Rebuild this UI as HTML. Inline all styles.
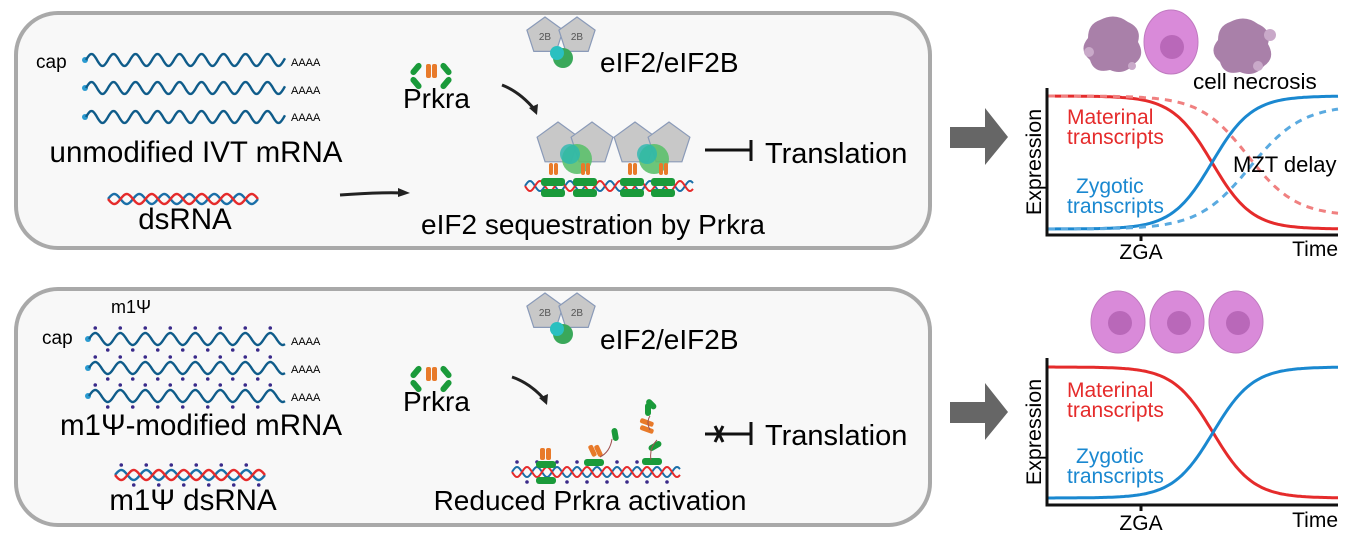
<!DOCTYPE html>
<html><head><meta charset="utf-8"><style>
html,body{margin:0;padding:0;background:#fff;width:1350px;height:538px;overflow:hidden}
svg text{font-family:"Liberation Sans",sans-serif}
</style></head><body>
<svg id="s" width="1350" height="538" viewBox="0 0 1350 538" xmlns="http://www.w3.org/2000/svg">
<rect x="16" y="13" width="914" height="235" rx="42" fill="#f8f8f8" stroke="#a9a9a9" stroke-width="4"/>
<rect x="16" y="289" width="914" height="236" rx="42" fill="#f8f8f8" stroke="#a9a9a9" stroke-width="4"/>
<g id="dyn"></g>
<text x="36" y="68" font-size="19">cap</text>
<text x="291" y="66" font-size="11">AAAA</text>
<text x="291" y="94" font-size="11">AAAA</text>
<text x="291" y="121" font-size="11">AAAA</text>
<text x="196" y="162" font-size="29.5" text-anchor="middle">unmodified IVT mRNA</text>
<text x="185" y="229" font-size="29.5" text-anchor="middle">dsRNA</text>
<text x="403" y="108" font-size="28">Prkra</text>
<text x="600" y="72" font-size="28">eIF2/eIF2B</text>
<text x="765" y="163" font-size="29">Translation</text>
<text x="593" y="234" font-size="28" text-anchor="middle">eIF2 sequestration by Prkra</text>
<text x="111" y="313" font-size="18">m1Ψ</text>
<text x="42" y="344" font-size="19">cap</text>
<text x="291" y="345" font-size="11">AAAA</text>
<text x="291" y="373" font-size="11">AAAA</text>
<text x="291" y="401" font-size="11">AAAA</text>
<text x="201" y="435" font-size="29.5" text-anchor="middle">m1Ψ-modified mRNA</text>
<text x="193" y="510" font-size="29.5" text-anchor="middle">m1Ψ dsRNA</text>
<text x="403" y="411" font-size="28">Prkra</text>
<text x="600" y="349" font-size="28">eIF2/eIF2B</text>
<text x="765" y="445" font-size="29">Translation</text>
<text x="590" y="510" font-size="28" text-anchor="middle">Reduced Prkra activation</text>
<path d="M705 150H750M751 140V161" stroke="#111" stroke-width="3" fill="none"/>
<path d="M705 434H750M751 422V445M715 426l8 16M723 426l-8 16" stroke="#111" stroke-width="3" fill="none"/>
<path d="M340 195 Q 380 192 405 193" stroke="#222" stroke-width="3" fill="none"/>
<path d="M398 188 L410 193 L398 197Z" fill="#222"/>
<path d="M502 85 Q 520 92 535 110" stroke="#222" stroke-width="3" fill="none"/>
<path d="M529 108 L537 115 L538 104Z" fill="#222"/>
<path d="M512 377 Q 530 383 545 400" stroke="#222" stroke-width="3" fill="none"/>
<path d="M539 398 L547 405 L548 394Z" fill="#222"/>
<path d="M950 127H985V108L1008 137L985 165V148H950Z" fill="#666"/>
<path d="M950 402H985V383L1008 412L985 440V423H950Z" fill="#666"/>
<g>
<path d="M1047 88V235H1338M1141 235v6" stroke="#111" stroke-width="3" fill="none"/>
<path d="M1047 358V505H1338M1141 505v6" stroke="#111" stroke-width="3" fill="none"/>
<text x="1141" y="259" text-anchor="middle" font-size="21">ZGA</text>
<text x="1338" y="256" text-anchor="end" font-size="21">Time</text>
<text x="1141" y="530" text-anchor="middle" font-size="21">ZGA</text>
<text x="1338" y="527" text-anchor="end" font-size="21">Time</text>
<text transform="translate(1041 162) rotate(-90)" text-anchor="middle" font-size="21.5">Expression</text>
<text transform="translate(1041 432) rotate(-90)" text-anchor="middle" font-size="21.5">Expression</text>
<text x="1067" y="124" fill="#e52b2b" font-size="21">Materinal</text>
<text x="1067" y="144" fill="#e52b2b" font-size="21">transcripts</text>
<text x="1076" y="193" fill="#1a88d0" font-size="21">Zygotic</text>
<text x="1067" y="213" fill="#1a88d0" font-size="21">transcripts</text>
<text x="1233" y="172" font-size="22">MZT delay</text>
<text x="1193" y="89" font-size="22.5">cell necrosis</text>
<text x="1067" y="397" fill="#e52b2b" font-size="21">Materinal</text>
<text x="1067" y="417" fill="#e52b2b" font-size="21">transcripts</text>
<text x="1076" y="463" fill="#1a88d0" font-size="21">Zygotic</text>
<text x="1067" y="483" fill="#1a88d0" font-size="21">transcripts</text>
</g>
<g>
<ellipse cx="1118" cy="322" rx="27" ry="31" fill="#d98ad9" stroke="#c07ac0"/><circle cx="1120" cy="323" r="12" fill="#b968b9"/>
<ellipse cx="1177" cy="322" rx="27" ry="31" fill="#d98ad9" stroke="#c07ac0"/><circle cx="1179" cy="323" r="12" fill="#b968b9"/>
<ellipse cx="1236" cy="322" rx="27" ry="31" fill="#d98ad9" stroke="#c07ac0"/><circle cx="1238" cy="323" r="12" fill="#b968b9"/>
<ellipse cx="1171" cy="42" rx="27" ry="32" fill="#d98ad9" stroke="#c07ac0"/><circle cx="1172" cy="47" r="12" fill="#b968b9"/>
<path d="M1100 20 q15 -8 28 2 q14 6 10 20 q8 14 -4 22 q-10 12 -24 6 q-16 4 -20 -10 q-12 -10 -2 -22 q0 -14 12 -18Z" fill="#9a6a9a" opacity=".85"/>
<path d="M1230 22 q15 -8 28 2 q14 6 10 20 q8 14 -4 22 q-10 12 -24 6 q-16 4 -20 -10 q-12 -10 -2 -22 q0 -14 12 -18Z" fill="#9a6a9a" opacity=".85"/>
<circle cx="1089" cy="52" r="5" fill="#c9a9c9"/><circle cx="1132" cy="66" r="4" fill="#c9a9c9"/><circle cx="1270" cy="35" r="6" fill="#c9a9c9"/><circle cx="1258" cy="66" r="5" fill="#c9a9c9"/>
</g>
</svg>
<script>
const NS="http://www.w3.org/2000/svg",g=document.getElementById('dyn');
function el(t,a){const e=document.createElementNS(NS,t);for(const k in a)e.setAttribute(k,a[k]);g.appendChild(e);return e;}
function wave(x0,x1,y,amp,wl,ph,col,w,dots){let d='';for(let x=x0;x<=x1;x+=1){const yy=y-amp*Math.sin((x-x0)/wl*2*Math.PI+ph);d+=(d?'L':'M')+x+' '+yy.toFixed(1);}el('path',{d,stroke:col,'stroke-width':w,fill:'none'});
 if(dots){for(let k=0;;k++){const x=x0+wl*(0.25+0.5*k);if(x>x1-5)break;const up=k%2==0;const yy=y+(up?-amp-5:amp+5);el('circle',{cx:x,cy:yy,r:1.8,fill:'#3a2a8a'});}}}
[60,88,117].forEach(y=>{el('circle',{cx:85,cy:y,r:3,fill:'#2a9ad0'});wave(86,285,y,6,22,0,'#0f5c8a',2.4);});
wave(108,258,199,5,25,0,'#1a6fa8',2.4);wave(108,258,199,5,25,Math.PI,'#e52b2b',2.4);
[339,368,396].forEach(y=>{el('circle',{cx:88,cy:y,r:3,fill:'#2a9ad0'});wave(89,285,y,6,25,0,'#0f5c8a',2.4,true);});
wave(115,265,475,5,25,0,'#1a6fa8',2.4,true);wave(115,265,475,5,25,Math.PI,'#e52b2b',2.4);
function prk(x,y){el('rect',{x:x-14,y:y-12,width:6,height:14,rx:3,fill:'#1a9a3a',transform:`rotate(40 ${x-11} ${y-5})`});el('rect',{x:x-14,y:y+2,width:6,height:14,rx:3,fill:'#1a9a3a',transform:`rotate(-40 ${x-11} ${y+9})`});
 el('rect',{x:x+16,y:y-12,width:6,height:14,rx:3,fill:'#1a9a3a',transform:`rotate(-40 ${x+19} ${y-5})`});el('rect',{x:x+16,y:y+2,width:6,height:14,rx:3,fill:'#1a9a3a',transform:`rotate(40 ${x+19} ${y+9})`});
 el('rect',{x:x-1,y:y-10,width:5,height:14,rx:2,fill:'#e87a2a'});el('rect',{x:x+5,y:y-10,width:5,height:14,rx:2,fill:'#e87a2a'});}
prk(427,74);prk(427,377);
function pent(cx,cy,r,fill,stroke,lab){let p=[];for(let i=0;i<5;i++){const a=-Math.PI/2+i*2*Math.PI/5;p.push((cx+r*Math.cos(a)).toFixed(1)+','+(cy+r*Math.sin(a)).toFixed(1));}el('polygon',{points:p.join(' '),fill,stroke:'#8a9ab8','stroke-width':1.2});if(lab){const t=el('text',{x:cx,y:cy+4,'font-size':10,'text-anchor':'middle',fill:'#555'});t.textContent=lab;}}
function eif(x,y){pent(x,y,19,'#c8c8c8',0,'2B');pent(x+32,y,19,'#c8c8c8',0,'2B');el('circle',{cx:x+18,cy:y+22,r:10,fill:'#3aa85a'});el('circle',{cx:x+12,cy:y+17,r:7,fill:'#2ac0c0'});}
eif(545,36);eif(545,312);
[[540,0],[617,0]].forEach(([x])=>{pent(x+18,144,22,'#c8c8c8');pent(x+52,144,22,'#c8c8c8');el('circle',{cx:x+37,cy:159,r:15,fill:'#5cc06c',opacity:.9});el('circle',{cx:x+30,cy:154,r:10,fill:'#2ab8b0',opacity:.8});});
wave(525,693,186,5,20,0,'#1a6fa8',2);wave(525,693,186,5,20,Math.PI,'#e52b2b',2);
[553,585,632,663].forEach(x=>{el('rect',{x:x-12,y:178,width:24,height:8,rx:3,fill:'#1a9a3a'});el('rect',{x:x-12,y:189,width:24,height:8,rx:3,fill:'#1a9a3a'});el('rect',{x:x-4,y:163,width:4,height:12,rx:2,fill:'#e87a2a'});el('rect',{x:x+1,y:163,width:4,height:12,rx:2,fill:'#e87a2a'});});
wave(512,680,472,5,20,0,'#1a6fa8',2,true);wave(512,680,472,5,20,Math.PI,'#e52b2b',2);
[[546,465],[594,463],[652,462]].forEach(([x,y],i)=>{el('rect',{x:x-10,y:y-4,width:20,height:7,rx:3,fill:'#1a9a3a'});if(i==0)el('rect',{x:x-10,y:y+12,width:20,height:7,rx:3,fill:'#1a9a3a'});});
el('rect',{x:540,y:448,width:5,height:12,rx:2,fill:'#e87a2a'});el('rect',{x:546,y:448,width:5,height:12,rx:2,fill:'#e87a2a'});
el('rect',{x:590,y:445,width:5,height:12,rx:2,fill:'#e87a2a',transform:'rotate(-25 592 451)'});el('rect',{x:596,y:445,width:5,height:12,rx:2,fill:'#e87a2a',transform:'rotate(-25 598 451)'});
el('rect',{x:612,y:428,width:6,height:13,rx:3,fill:'#1a9a3a',transform:'rotate(-10 615 434)'});
el('rect',{x:640,y:420,width:14,height:5,rx:2,fill:'#e87a2a',transform:'rotate(20 647 422)'});el('rect',{x:640,y:427,width:14,height:5,rx:2,fill:'#e87a2a',transform:'rotate(20 647 429)'});
el('rect',{x:645,y:403,width:6,height:13,rx:3,fill:'#1a9a3a'});el('rect',{x:644,y:400,width:6,height:12,rx:3,fill:'#1a9a3a',transform:'rotate(-45 647 400)'});el('rect',{x:648,y:443,width:14,height:6,rx:3,fill:'#1a9a3a',transform:'rotate(-30 655 446)'});
el('path',{d:'M600 457 q10 -5 12 -18 M657 440 q-8 8 -6 20 M650 430 q-4 -8 0 -14',stroke:'#a05050','stroke-width':1,fill:'none'});
function sig(x0,x1,top,bot,mid,k,down,col,dash){let d='';for(let x=x0;x<=x1;x+=2){let s=1/(1+Math.exp(-(x-mid)/k));let v=down?top+(bot-top)*s:bot-(bot-top)*s;d+=(d?'L':'M')+x+' '+v.toFixed(1);}const a={d,stroke:col,'stroke-width':3,fill:'none'};if(dash)a['stroke-dasharray']='7 6';el('path',a);}
sig(1048,1338,96,229,1212,20,true,'#e52b2b');sig(1048,1338,96,229,1212,20,false,'#1a88d0');
sig(1048,1338,96,216,1248,24,true,'#f08080',1);sig(1048,1338,105,229,1250,26,false,'#5aaae0',1);
sig(1048,1338,367,498,1213,20,true,'#e52b2b');sig(1048,1338,367,498,1213,20,false,'#1a88d0');
</script>
</body></html>
